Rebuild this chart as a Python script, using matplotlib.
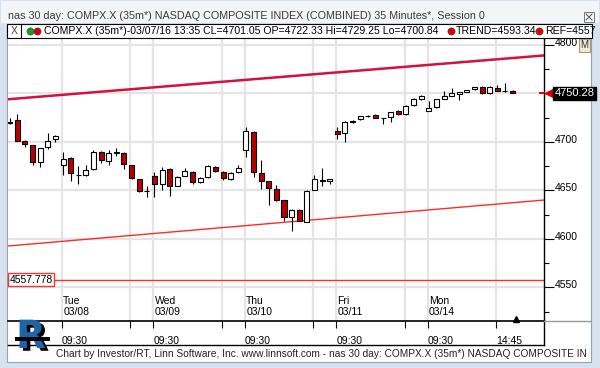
import matplotlib
matplotlib.use("Agg")
import matplotlib.pyplot as plt
import matplotlib.transforms as mtransforms
import matplotlib.patheffects as pe
from matplotlib.patches import Rectangle
from matplotlib.lines import Line2D
from matplotlib.ticker import MultipleLocator

plt.rcParams["font.family"] = ["Liberation Sans", "DejaVu Sans"]

W, H = 600, 368

# 35 minute bars, Mon 03/07 afternoon to Mon 03/14
opens = [4719.2, 4722.33, 4701.0, 4696.5, 4679.0, 4694.4, 4702.7,
         4675.8, 4683.1, 4666.0, 4665.8, 4672.0, 4689.6, 4680.6, 4688.9, 4688.9, 4676.2, 4661.4, 4649.8,
         4665.1, 4656.2, 4672.0, 4655.0, 4665.1, 4669.3, 4658.3, 4663.5, 4674.4, 4669.3, 4661.7, 4668.6,
         4691.6, 4710.5, 4668.2, 4659.6, 4651.4, 4640.0, 4622.8, 4629.7, 4617.6, 4650.4, 4660.0, 4659.6,
         4711.6, 4708.9, 4720.8, 4723.3, 4727.0, 4727.8, 4724.3, 4725.4, 4731.9, 4728.5, 4738.1, 4744.3,
         4732.2, 4736.3, 4744.6, 4747.4, 4749.1, 4751.2, 4754.3, 4757.0, 4750.2, 4755.3, 4752.6, 4753.0]
highs = [4725.0, 4729.25, 4701.5, 4697.0, 4694.0, 4709.5, 4707.0,
         4689.9, 4684.0, 4675.1, 4676.2, 4691.6, 4691.0, 4691.6, 4693.7, 4689.5, 4676.5, 4662.0, 4654.8,
         4668.6, 4674.4, 4673.0, 4665.0, 4673.0, 4670.0, 4663.5, 4676.0, 4675.5, 4670.0, 4669.0, 4676.2,
         4715.7, 4711.5, 4681.3, 4660.0, 4655.5, 4640.5, 4630.5, 4630.5, 4650.5, 4665.8, 4672.8, 4662.0,
         4715.7, 4721.5, 4722.5, 4727.0, 4728.0, 4728.5, 4725.0, 4731.0, 4732.5, 4738.0, 4745.0, 4748.5,
         4742.2, 4744.5, 4752.8, 4755.3, 4752.0, 4754.0, 4757.0, 4757.5, 4757.5, 4758.7, 4761.1, 4753.5]
lows = [4718.5, 4700.84, 4695.0, 4675.8, 4674.4, 4692.7, 4699.6,
        4665.8, 4660.0, 4656.6, 4665.0, 4671.0, 4677.9, 4676.2, 4685.8, 4672.4, 4661.5, 4648.5, 4642.8,
        4642.8, 4650.4, 4644.2, 4654.0, 4664.5, 4657.0, 4657.5, 4662.5, 4669.0, 4661.0, 4660.5, 4668.0,
        4684.7, 4664.1, 4651.1, 4634.6, 4639.0, 4618.7, 4608.0, 4618.0, 4617.0, 4650.0, 4654.5, 4656.2,
        4703.0, 4700.2, 4720.0, 4723.0, 4726.0, 4724.5, 4718.5, 4720.8, 4728.0, 4728.0, 4737.5, 4743.5,
        4731.5, 4735.5, 4744.0, 4747.0, 4743.2, 4751.0, 4754.0, 4749.5, 4749.5, 4752.3, 4751.5, 4750.0]
closes = [4720.8, 4701.05, 4697.8, 4679.0, 4693.4, 4701.2, 4706.4,
          4682.7, 4667.6, 4665.6, 4671.0, 4689.9, 4681.3, 4688.2, 4689.3, 4677.2, 4662.4, 4649.6, 4649.4,
          4656.6, 4671.0, 4654.8, 4664.1, 4669.7, 4658.3, 4662.4, 4675.1, 4670.0, 4662.4, 4668.2, 4672.8,
          4711.2, 4669.3, 4660.0, 4652.1, 4640.0, 4622.8, 4629.7, 4618.7, 4649.6, 4661.4, 4660.3, 4661.4,
          4708.2, 4720.8, 4721.6, 4726.7, 4727.2, 4725.0, 4724.5, 4730.5, 4728.5, 4737.4, 4744.3, 4747.7,
          4735.3, 4744.0, 4747.4, 4750.8, 4751.2, 4753.5, 4756.3, 4750.2, 4757.0, 4752.8, 4752.4, 4750.28]

day_names = ["Tue", "Wed", "Thu", "Fri", "Mon"]
day_dates = ["03/08", "03/09", "03/10", "03/11", "03/14"]
day_open_bar = [7, 19, 31, 43, 55]       # 09:30 bars
afternoon_bar = [16, 28, 40, 52, 64]     # 14:45 bars

price_ticks = [4550, 4600, 4650, 4700, 4750, 4800]
price_labels = ["4550", "4600", "4650", "4700", "", "4800"]  # 4750 sits under the last price box

trend_x = [-0.2, 70.1]
trend_upper = [4744.0, 4789.2]
trend_lower = [4592.6, 4640.0]
ref_level = 4557.778
last_price = 4750.28
last_bar = 66.5


def fx(x):
    return x / W


def fy(y):
    return 1 - y / H


fig = plt.figure(figsize=(6.0, 3.68), dpi=100, facecolor="#d8e2ee")

# window chrome
fig.patches.append(Rectangle((fx(1), fy(23)), fx(598), 22 / H, transform=fig.transFigure,
                             facecolor="#f3f5f8", edgecolor="none", zorder=-5))
fig.patches.append(Rectangle((fx(7), fy(362)), fx(584), 338 / H, transform=fig.transFigure,
                             facecolor="white", edgecolor="#8fa3bd", linewidth=0.8, zorder=-5))
fig.text(fx(8), fy(16), "nas 30 day: COMPX.X (35m*) NASDAQ COMPOSITE INDEX (COMBINED) 35 Minutes*, Session 0",
         fontsize=7.75, color="#3a3a3a", va="center", ha="left")
fig.patches.append(Rectangle((fx(584), fy(22)), fx(10), 10 / H, transform=fig.transFigure,
                             facecolor="#f6f6f6", edgecolor="#777777", linewidth=0.7))
fig.lines.append(Line2D([fx(586), fx(592)], [fy(14), fy(20)], transform=fig.transFigure,
                        color="#555555", linewidth=0.7))
fig.lines.append(Line2D([fx(586), fx(592)], [fy(20), fy(14)], transform=fig.transFigure,
                        color="#555555", linewidth=0.7))

# legend strip
fig.patches.append(Rectangle((fx(7), fy(38)), fx(585), 14 / H, transform=fig.transFigure,
                             facecolor="white", edgecolor="black", linewidth=0.8, zorder=2))
fig.lines.append(Line2D([fx(21), fx(21)], [fy(38), fy(24)], transform=fig.transFigure,
                        color="black", linewidth=0.8, zorder=3))
fig.text(fx(14), fy(31), "X", fontsize=7.5, color="#444444", ha="center", va="center", zorder=3)
for cx, col in [(30, "#1a9a1a"), (37, "#d00000"), (451, "#e00000"), (539, "#e00000")]:
    fig.lines.append(Line2D([fx(cx)], [fy(31)], transform=fig.transFigure, marker="o", markersize=5.2,
                            markerfacecolor=col, markeredgecolor="#444444", markeredgewidth=0.4,
                            linestyle="none", zorder=3))
fig.text(fx(44), fy(31), "COMPX.X (35m*)-03/07/16 13:35 CL=4701.05 OP=4722.33 Hi=4729.25 Lo=4700.84",
         fontsize=7.6, va="center", ha="left", zorder=3)
fig.text(fx(456), fy(31), "TREND=4593.34", fontsize=7.6, va="center", ha="left", zorder=3)
fig.text(fx(545), fy(31), "REF=4557", fontsize=7.6, va="center", ha="left", zorder=3)

# main price panel
ax = fig.add_axes([fx(8), fy(321), 536 / W, 282 / H], zorder=1)
ax.set_facecolor("white")
ax.set_xlim(-0.22, 70.12)
ax.set_ylim(4515.2, 4806.2)

ax.set_yticks(price_ticks)
ax.set_yticklabels(price_labels)
ax.yaxis.set_minor_locator(MultipleLocator(25))
ax.yaxis.tick_right()
ax.tick_params(axis="y", which="major", length=7, width=0.8, pad=1, labelsize=7.5, colors="black")
ax.tick_params(axis="y", which="minor", length=3.5, width=0.8)
up = mtransforms.ScaledTranslation(0, 3 / 100, fig.dpi_scale_trans)
for lab in ax.get_yticklabels():
    lab.set_transform(lab.get_transform() + up)

tick_pos = [b - 0.15 for b in day_open_bar] + [b - 0.15 for b in afternoon_bar]
tick_lab = ["09:30"] * len(day_open_bar) + [""] * (len(afternoon_bar) - 1) + ["14:45"]
ax.set_xticks(tick_pos)
ax.set_xticklabels(tick_lab)
ax.tick_params(axis="x", length=5, width=0.8, pad=6, labelsize=7.5)
for lab in ax.get_xticklabels():
    lab.set_horizontalalignment("left")

for side in ["top", "left"]:
    ax.spines[side].set_visible(False)
ax.spines["bottom"].set_linewidth(1.2)
ax.spines["right"].set_linewidth(1.0)

ax.grid(True, color="#e4e4e4", linewidth=1.6, zorder=0)
ax.set_axisbelow(True)

for b, name, date in zip(day_open_bar, day_names, day_dates):
    ax.annotate(name + "\n" + date, xy=(b - 0.15, 0), xycoords=ax.get_xaxis_transform(),
                xytext=(1, 3), textcoords="offset points", fontsize=7.5, ha="left", va="bottom",
                linespacing=1.05)

# trend lines and reference level
ax.plot(trend_x, trend_upper, color="#d3123e", linewidth=1.8, zorder=2)
ax.plot(trend_x, trend_lower, color="#ff2a2a", linewidth=1.0, zorder=2)
ax.axhline(ref_level, color="#ff3030", linewidth=1.0, zorder=2)
ax.annotate("4557.778", xy=(0, ref_level), xycoords=ax.get_yaxis_transform(),
            xytext=(1, 0), textcoords="offset points", fontsize=7.5, ha="left", va="center",
            bbox=dict(boxstyle="square,pad=0.12", facecolor="white", edgecolor="#ff3030", linewidth=1.0),
            zorder=6)

# candles
xs = list(range(len(opens)))
ax.vlines(xs, lows, highs, color="black", linewidth=0.8, zorder=3)
bottoms = [min(o, c) for o, c in zip(opens, closes)]
heights = [max(abs(c - o), 0.25) for o, c in zip(opens, closes)]
colors = ["white" if c >= o else "#b80000" for o, c in zip(opens, closes)]
ax.bar(xs, heights, bottom=bottoms, width=0.66, color=colors, edgecolor="black", linewidth=0.8, zorder=4)

ax.plot([last_bar], [4517.5], marker="^", color="black", markersize=4, zorder=5, clip_on=False)

# last price marker on the right scale
ax.plot([0.992, 1.0], [last_price, last_price], transform=ax.get_yaxis_transform(),
        color="#e00000", linewidth=1.4, clip_on=False, zorder=6)
ax.plot([1.0095], [last_price], transform=ax.get_yaxis_transform(), marker="<", color="#d00000",
        markersize=6, clip_on=False, zorder=6)
ax.annotate("4750.28", xy=(1.0, last_price), xycoords=ax.get_yaxis_transform(),
            xytext=(7.5, 0), textcoords="offset points", fontsize=8, color="white", ha="left", va="center",
            bbox=dict(boxstyle="square,pad=0.15", facecolor="black", edgecolor="black"),
            zorder=7, annotation_clip=False)

# M button
fig.patches.append(Rectangle((fx(579), fy(52)), fx(11), 13 / H, transform=fig.transFigure,
                             facecolor="#f1e9d6", edgecolor="#a89878", linewidth=0.8, zorder=5))
fig.text(fx(584.5), fy(45.5), "M", fontsize=7, color="#333333", ha="center", va="center", zorder=6)

# time strip lines
fig.lines.append(Line2D([fx(8), fx(544)], [fy(344.5), fy(344.5)], transform=fig.transFigure,
                        color="black", linewidth=1.0))
fig.lines.append(Line2D([fx(544), fx(544)], [fy(321), fy(344.5)], transform=fig.transFigure,
                        color="black", linewidth=1.0))
fig.lines.append(Line2D([fx(544), fx(590)], [fy(321), fy(321)], transform=fig.transFigure,
                        color="#999999", linewidth=1.0))

# logo and footer
fig.patches.append(Rectangle((fx(15), fy(341)), fx(35), 4 / H, transform=fig.transFigure,
                             facecolor="black", edgecolor="none", zorder=5))
fig.text(fx(31), fy(337), "R", fontsize=28, fontweight="bold", color="#1d64ab",
         ha="center", va="center", family="DejaVu Sans", zorder=4,
         path_effects=[pe.SimplePatchShadow(offset=(2.5, -2), shadow_rgbFace="black", alpha=1.0),
                       pe.Normal()])
fig.text(fx(56), fy(354), "Chart by Investor/RT, Linn Software, Inc. www.linnsoft.com - nas 30 day: "
         "COMPX.X (35m*) NASDAQ COMPOSITE IN", fontsize=7.25, color="#222222", ha="left", va="center")

fig.savefig("out.png", dpi=100, facecolor=fig.get_facecolor())
